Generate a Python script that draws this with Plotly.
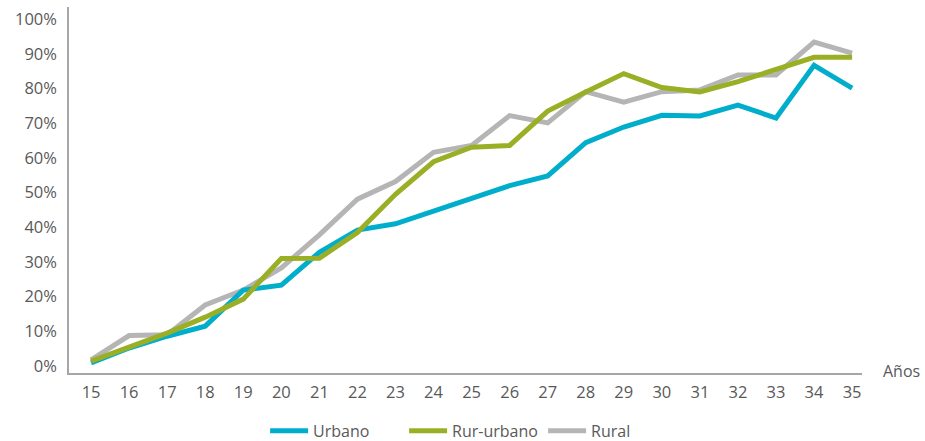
import plotly.graph_objects as go

edades = list(range(15, 36))
urbano = [0.9, 5.2, 8.6, 11.5, 21.9, 23.3, 32.8, 39.2, 41.0, 44.7, 48.4, 52.0, 54.8, 64.4, 68.9, 72.3, 72.1, 75.2, 71.5, 86.7, 80.1]
rur_urbano = [1.4, 5.5, 9.5, 14.1, 19.3, 31.0, 31.1, 38.5, 49.5, 58.9, 63.1, 63.6, 73.5, 79.0, 84.3, 80.3, 79.0, 82.0, 85.5, 89.0, 89.0]
rural = [1.8, 8.8, 9.0, 17.6, 21.9, 28.3, 37.8, 48.1, 53.2, 61.6, 63.6, 72.2, 70.1, 79.1, 76.1, 79.1, 79.6, 83.9, 83.9, 93.4, 90.2]
y_ticks = [0, 10, 20, 30, 40, 50, 60, 70, 80, 90, 100]
y_labels = [f"{v}%" for v in y_ticks]

font_txt = "Open Sans, Noto Sans, sans-serif"
txt_col = "#595959"

fig = go.Figure()
fig.add_trace(go.Scatter(x=edades, y=rural, mode="lines", name="Rural",
                         line=dict(color="#B5B5B5", width=5), legendrank=3))
fig.add_trace(go.Scatter(x=edades, y=urbano, mode="lines", name="Urbano",
                         line=dict(color="#00AECB", width=5), legendrank=1))
fig.add_trace(go.Scatter(x=edades, y=rur_urbano, mode="lines", name="Rur-urbano",
                         line=dict(color="#9BAF26", width=5), legendrank=2))

fig.update_layout(
    width=925, height=441,
    margin=dict(l=69, r=63, t=7, b=68),
    plot_bgcolor="white", paper_bgcolor="white",
    font=dict(family=font_txt, size=16.5, color=txt_col),
    showlegend=True,
    legend=dict(orientation="h", xref="container", yref="container",
                x=0.512, xanchor="center", y=0.023, yanchor="middle",
                itemwidth=38, entrywidth=86, entrywidthmode="pixels",
                font=dict(size=16, color=txt_col), traceorder="normal"),
    xaxis=dict(range=[14.42, 35.26], tickvals=edades, ticktext=[str(e) for e in edades],
               showgrid=False, zeroline=False, showline=True, linecolor="#A6A6A6", linewidth=1.5,
               ticks="", ticklabelstandoff=3, ticklabeloverflow="allow", fixedrange=True),
    yaxis=dict(range=[-2.0, 103.5], tickvals=y_ticks, ticktext=y_labels,
               showgrid=False, zeroline=False, showline=True, linecolor="#A6A6A6", linewidth=1.5,
               ticks="", ticklabelstandoff=7, ticklabeloverflow="allow", fixedrange=True),
)

fig.add_annotation(text="Años", xref="paper", yref="paper", x=1.0757, y=0.0055,
                   xanchor="right", yanchor="middle", showarrow=False,
                   font=dict(size=16, color=txt_col, family=font_txt))

fig.write_html("out.html", config={"displayModeBar": False},
               post_script="document.body.style.margin='0';")
